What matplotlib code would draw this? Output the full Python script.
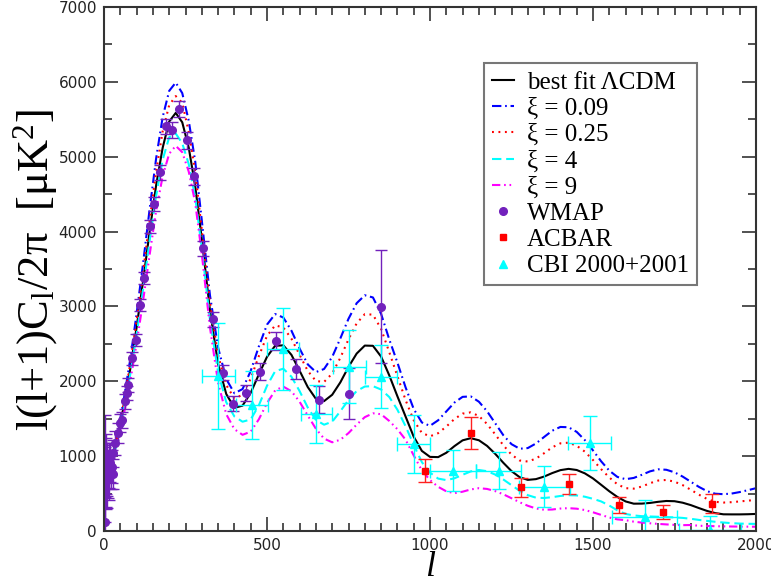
import numpy as np
import matplotlib
matplotlib.use('Agg')
import matplotlib.pyplot as plt
from matplotlib.ticker import MultipleLocator

plt.rcParams['mathtext.fontset'] = 'custom'
plt.rcParams['mathtext.rm'] = 'Liberation Serif'
plt.rcParams['mathtext.it'] = 'Liberation Serif:italic'

# multipole grid used for the model spectra
ell = np.r_[[2, 10, 20, 30, 45, 60, 80], np.arange(100, 301, 20), np.arange(325, 2001, 25)]

# best fit LCDM
lcdm = [950, 850, 880, 1020, 1320, 1650, 2150,
        2720, 3340, 4000, 4620, 5120, 5470, 5585, 5460, 5120, 4600, 3900,
        2950, 2230, 1830, 1645, 1675, 1845, 2092, 2327, 2475, 2480, 2353, 2141, 1923, 1766,
        1735, 1820, 1986, 2192, 2370, 2477, 2474, 2330, 2080, 1800, 1530, 1260, 1070, 990,
        987, 1045, 1134, 1211, 1240, 1212, 1137, 1031, 911, 800, 719, 683,
        693, 727, 774, 813, 830, 815, 770, 702, 617, 531, 454, 395, 365,
        366, 375, 390, 401, 398, 378, 346, 306, 268, 239, 223, 222, 222, 224, 228]

# xi = 0.09
xi_009 = [1000, 880, 910, 1060, 1380, 1740, 2280,
          2900, 3580, 4300, 4980, 5530, 5880, 5990, 5850, 5480, 4930, 4150,
          3150, 2450, 2030, 1840, 1896, 2138, 2466, 2757, 2898, 2852, 2676, 2437, 2226, 2123,
          2164, 2325, 2573, 2835, 3043, 3149, 3120, 2900, 2560, 2250, 1920, 1630, 1450, 1405,
          1479, 1597, 1716, 1792, 1798, 1727, 1600, 1440, 1279, 1160, 1099, 1108,
          1169, 1256, 1340, 1390, 1386, 1324, 1214, 1076, 931, 806, 722, 692, 709,
          751, 797, 824, 818, 784, 727, 658, 589, 532, 498, 492, 500, 520, 545, 572]

# xi = 0.25
xi_025 = [980, 865, 895, 1040, 1350, 1700, 2220,
          2810, 3460, 4150, 4800, 5340, 5690, 5810, 5720, 5330, 4790, 4020,
          3050, 2350, 1950, 1770, 1820, 2035, 2337, 2607, 2747, 2719, 2569, 2353, 2139, 2004,
          1991, 2104, 2314, 2560, 2774, 2897, 2890, 2700, 2390, 2070, 1750, 1480, 1310, 1265,
          1307, 1395, 1496, 1568, 1585, 1536, 1430, 1291, 1145, 1020, 942, 928,
          967, 1039, 1118, 1171, 1180, 1139, 1060, 948, 826, 715, 623, 572, 566,
          594, 639, 674, 682, 659, 613, 551, 485, 428, 390, 380, 385, 395, 405, 416]

# xi = 4
xi_4 = [940, 830, 860, 1000, 1290, 1600, 2080,
        2620, 3230, 3880, 4480, 4960, 5260, 5310, 5180, 4900, 4450, 3780,
        2820, 2120, 1720, 1530, 1460, 1490, 1679, 1940, 2135, 2168, 2061, 1869, 1650, 1484,
        1420, 1460, 1600, 1750, 1870, 1930, 1935, 1890, 1790, 1620, 1400, 1150, 920, 780,
        700, 680, 704, 751, 796, 815, 799, 754, 688, 612, 537, 479,
        445, 441, 452, 468, 478, 475, 458, 430, 395, 340, 275, 228, 208,
        198, 194, 190, 186, 182, 175, 163, 148, 135, 123, 113, 105, 99, 96, 95]

# xi = 9
xi_9 = [920, 815, 845, 980, 1250, 1540, 1990,
        2500, 3080, 3690, 4280, 4740, 5040, 5145, 5060, 4800, 4380, 3700,
        2720, 1980, 1560, 1360, 1285, 1327, 1492, 1708, 1878, 1929, 1867, 1727, 1543, 1366,
        1234, 1185, 1219, 1308, 1421, 1521, 1572, 1560, 1470, 1360, 1220, 1010, 810, 680,
        590, 530, 505, 525, 555, 572, 562, 533, 490, 438, 384, 337,
        301, 284, 287, 300, 305, 298, 280, 250, 215, 180, 155, 145, 125,
        112, 103, 95, 88, 82, 78, 80, 70, 67, 64, 62, 60, 59, 58, 57]

# WMAP binned spectrum
wmap_l = [2, 3, 4, 5, 6, 7, 8, 10, 12, 14, 16, 18, 21, 24, 27,
          29, 34, 44, 49, 54, 64, 70, 75, 87, 97,
          111, 123, 141, 154, 172, 190, 208, 231, 254, 277,
          305, 334, 364, 395, 436, 479, 528, 590, 658, 752, 851]
wmap_cl = [123, 1000, 616, 780, 720, 900, 690, 820, 760, 880, 700, 910, 800, 860, 760,
           1040, 1175, 1308, 1444, 1484, 1730, 1845, 1952, 2309, 2554,
           3021, 3378, 4068, 4371, 4790, 5404, 5360, 5640, 5217, 4736,
           3775, 2830, 2117, 1699, 1841, 2130, 2535, 2166, 1752, 1832, 2999]
wmap_err = [600, 550, 500, 460, 430, 400, 380, 350, 320, 300, 280, 260, 240, 220, 200,
            180, 160, 130, 120, 110, 100, 95, 90, 85, 80,
            80, 80, 85, 90, 95, 100, 105, 110, 110, 110,
            105, 100, 100, 100, 105, 115, 120, 130, 180, 340, 750]

# ACBAR
acbar_l = [986, 1127, 1278, 1426, 1580, 1716, 1866]
acbar_cl = [807, 1307, 585, 629, 349, 251, 365]
acbar_err = [150, 210, 127, 135, 107, 96, 127]

# CBI 2000+2001
cbi_l = [351, 453, 549, 651, 752, 850, 950, 1071, 1211, 1351, 1490, 1658, 1859]
cbi_cl = [2073, 1685, 2430, 1565, 2197, 2063, 1164, 807, 807, 594, 1173, 193, 10]
cbi_err = [710, 450, 550, 390, 490, 420, 390, 275, 250, 280, 360, 220, 190]
cbi_dl = [51, 49, 50, 48, 51, 49, 50, 71, 69, 77, 66, 100, 96]

fig = plt.figure(figsize=(7.71, 5.85), dpi=100)
ax = fig.add_axes([104/771, 1 - 531/585, 652/771, 524/585])

lw = 1.5
ax.plot(ell, lcdm, color='black', lw=lw, label='best fit \u039bCDM')
ax.plot(ell, xi_009, color='#0000ff', lw=lw, dashes=(4.5, 1.8, 0.8, 1.8), label='\u03be = 0.09')
ax.plot(ell, xi_025, color='#ff0000', lw=lw, dashes=(0.9, 2.2), label='\u03be = 0.25')
ax.plot(ell, xi_4, color='#00ffff', lw=lw, dashes=(4.5, 2.3), label='\u03be = 4')
ax.plot(ell, xi_9, color='#ff00ff', lw=lw, dashes=(4, 1.8, 0.8, 1.8, 0.8, 1.8), label='\u03be = 9')

wmap_c = '#7221bc'
ax.errorbar(wmap_l, wmap_cl, yerr=wmap_err, fmt='none', ecolor=wmap_c, elinewidth=1, capsize=4, capthick=1)
ax.errorbar(acbar_l, acbar_cl, yerr=acbar_err, fmt='none', ecolor='#ff2020', elinewidth=1, capsize=5, capthick=1)
ax.errorbar(cbi_l, cbi_cl, yerr=cbi_err, xerr=cbi_dl, fmt='none', ecolor='#00ffff', elinewidth=1, capsize=5, capthick=1)

ax.plot(wmap_l, wmap_cl, 'o', color=wmap_c, ms=5.5, label='WMAP')
ax.plot(acbar_l, acbar_cl, 's', color='#ff0000', ms=5, label='ACBAR')
ax.plot(cbi_l, cbi_cl, '^', color='#00ffff', ms=6, label='CBI 2000+2001')

ax.set_xlim(0, 2000)
ax.set_ylim(0, 7000)
ax.xaxis.set_major_locator(MultipleLocator(500))
ax.xaxis.set_minor_locator(MultipleLocator(50))
ax.yaxis.set_major_locator(MultipleLocator(1000))
ax.yaxis.set_minor_locator(MultipleLocator(500))
ax.tick_params(which='both', direction='in', top=True, right=True, width=1.2, color='#333333')
ax.tick_params(which='major', length=10, labelsize=11, pad=5, labelcolor='#222222')
ax.tick_params(which='minor', length=6)
for s in ax.spines.values():
    s.set_linewidth(1.5)
    s.set_color('#333333')

fig.text(36/771, 1 - 270/585, 'l(l+1)C$_\\mathrm{l}$/2\u03c0  [\u03bcK$^2$]', rotation=90,
         ha='center', va='center', family='Liberation Serif', size=32)
fig.text(430/771, 1 - 576/585, 'l', style='italic', family='Liberation Serif', size=26,
         ha='center', va='baseline')

leg = ax.legend(loc='upper right', bbox_to_anchor=(0.9095, 0.893), borderaxespad=0,
                prop={'family': 'Liberation Serif', 'size': 18}, fancybox=False,
                edgecolor='#777777', framealpha=1, handlelength=0.9, handletextpad=0.5,
                labelspacing=0.15, borderpad=0.32)
leg.get_frame().set_linewidth(1.5)

fig.savefig('out.png', dpi=100)
